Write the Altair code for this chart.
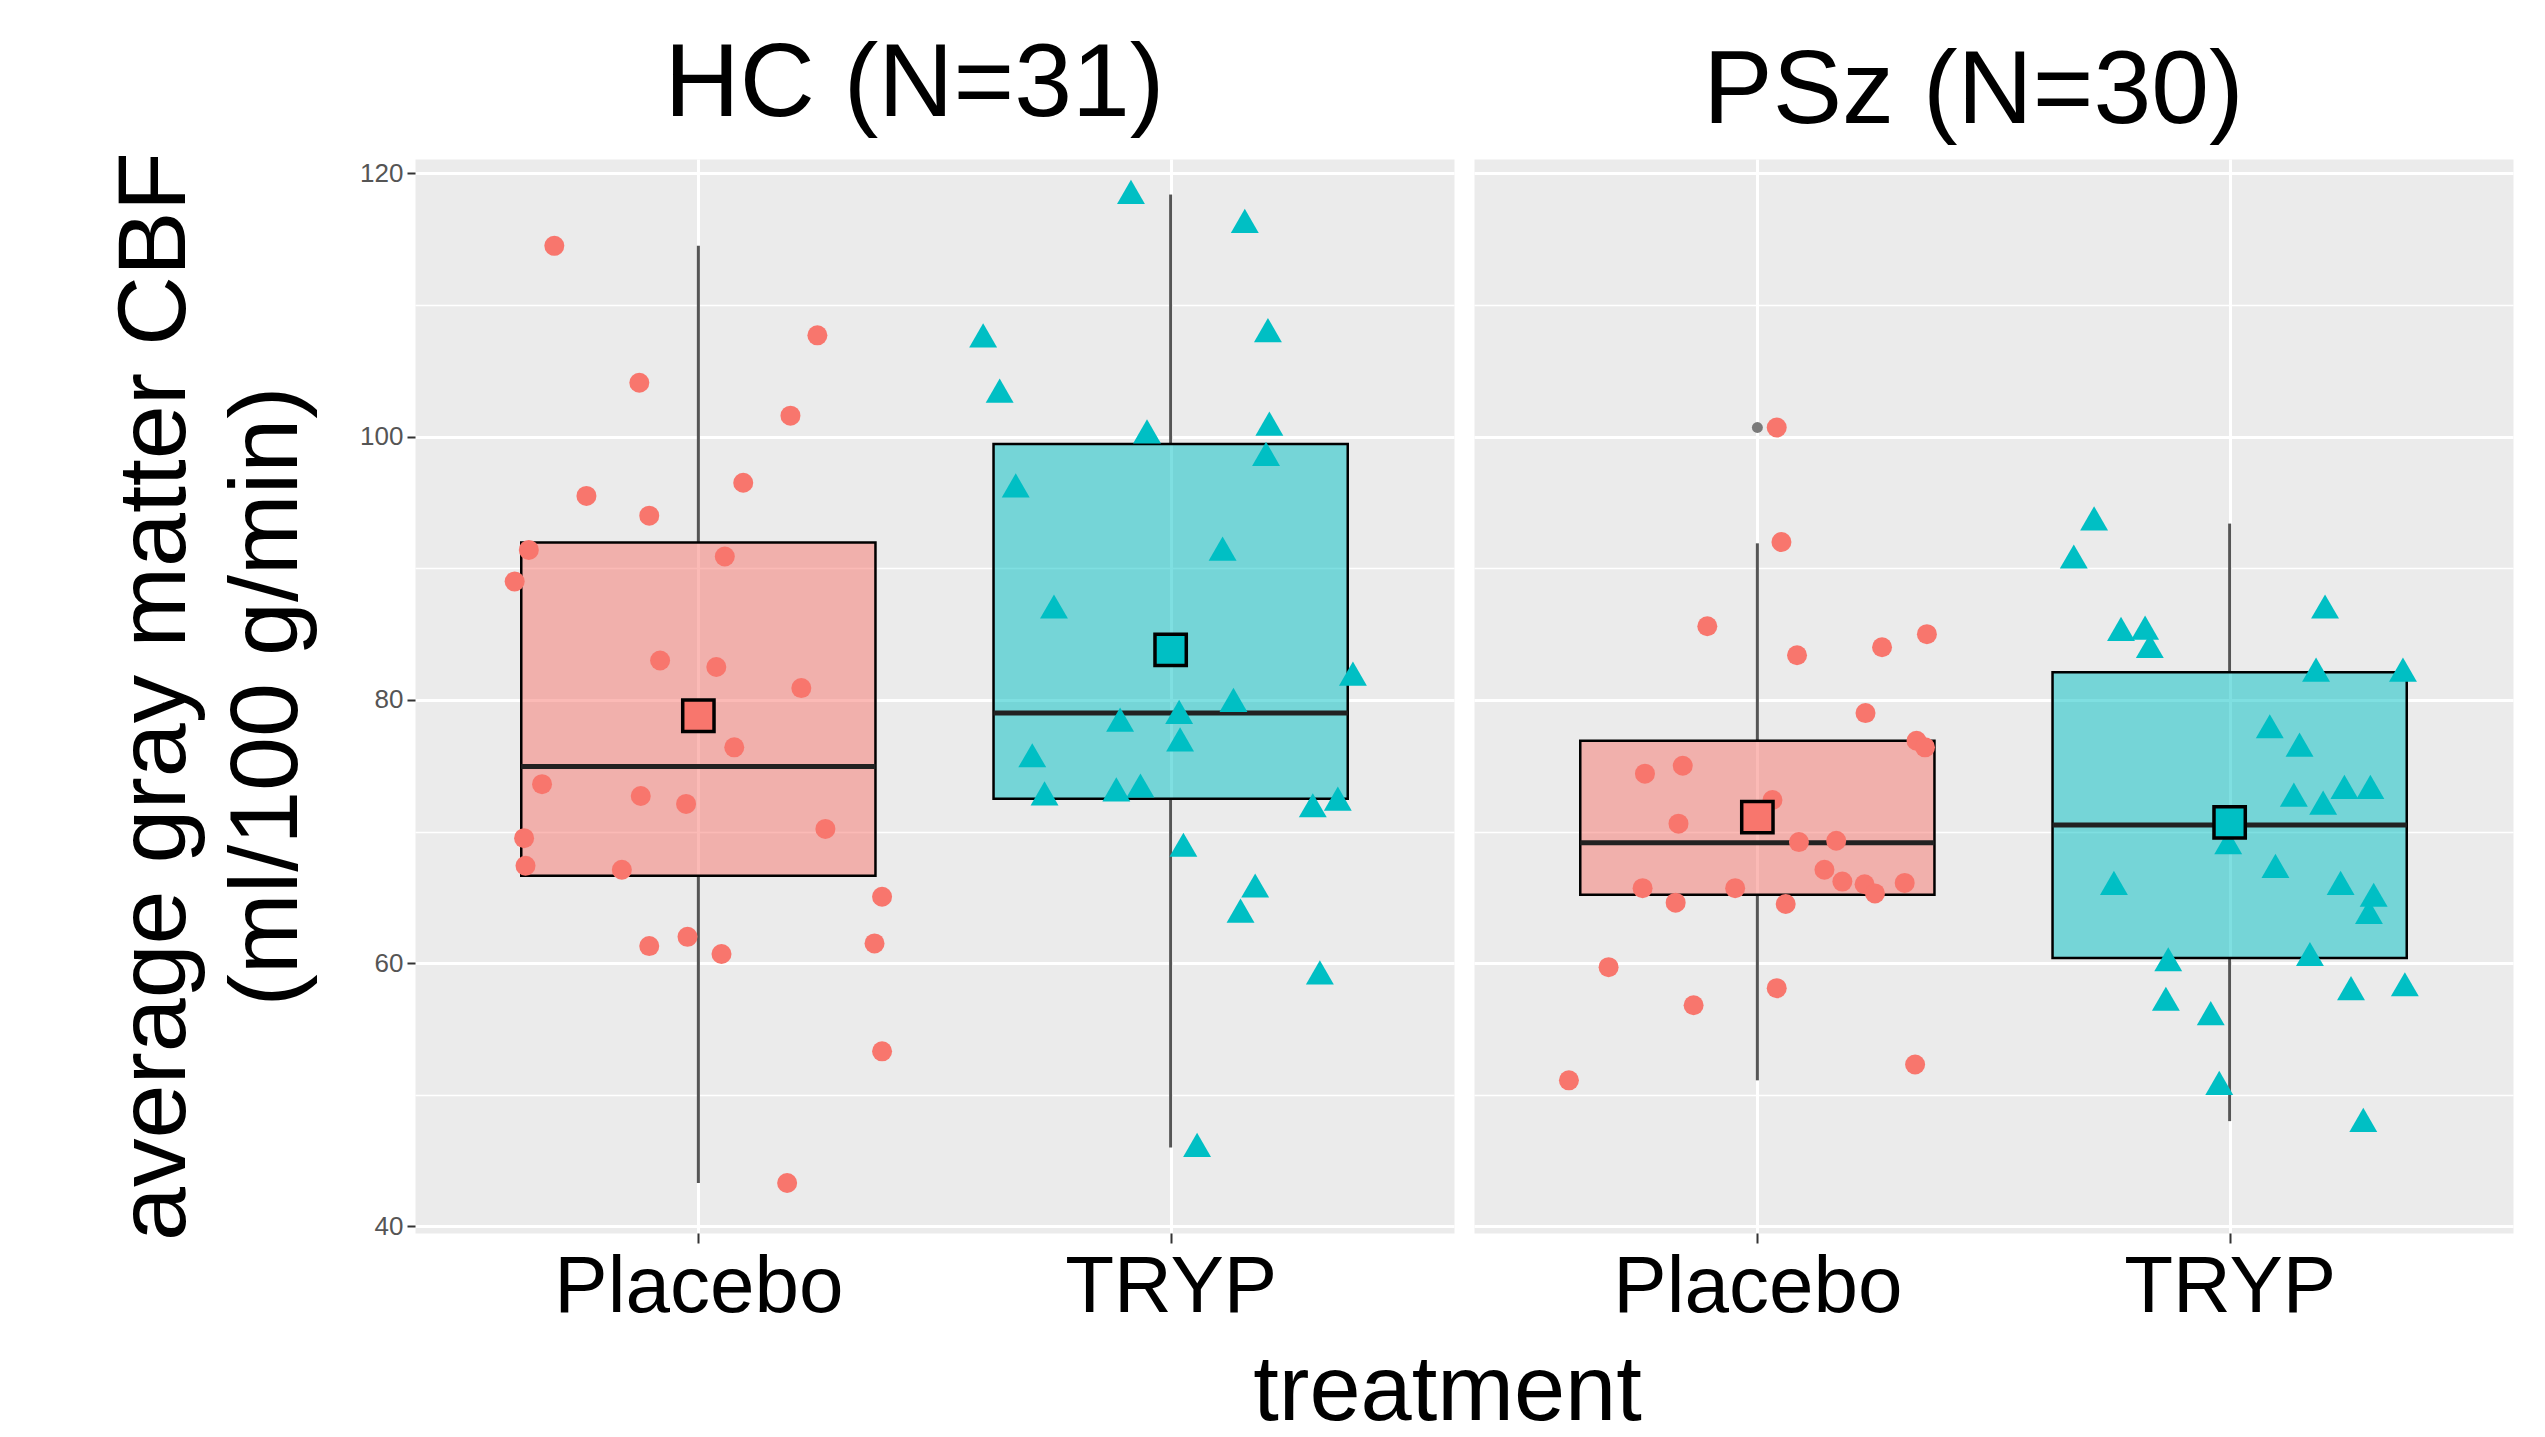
import altair as alt
import pandas as pd

FONT = "Liberation Sans"

treatments = ["Placebo", "TRYP"]
groups = ["HC", "PSz"]
panel_titles = ["HC (N=31)", "PSz (N=30)"]
colors = ["#F8766D", "#00BFC4"]
shapes = ["circle", "triangle-up"]
y_grid = [40, 50, 60, 70, 80, 90, 100, 110, 120]
y_domain = [39.5, 121.1]
y_title = ["average gray matter CBF", "(ml/100 g/min)"]
x_title = "treatment"

# individual subjects (value, horizontal jitter in category units)
hc_placebo_cbf = [114.5, 107.7, 104.1, 101.6, 96.5, 95.5, 94.0, 90.9, 91.4, 89.0,
                  83.0, 82.5, 80.9, 76.4, 73.6, 72.7, 72.1, 70.2, 69.5, 67.4,
                  67.1, 65.05, 61.3, 62.0, 60.7, 61.5, 53.3, 43.3]
hc_placebo_jitter = [-0.305, 0.252, -0.125, 0.195, 0.095, -0.237, -0.104, 0.056, -0.359, -0.389,
                     -0.081, 0.038, 0.218, 0.076, -0.331, -0.122, -0.026, 0.269, -0.369, -0.366,
                     -0.162, 0.389, -0.104, -0.023, 0.049, 0.373, 0.389, 0.188]

hc_tryp_cbf = [118.6, 116.4, 107.7, 108.1, 103.5, 100.4, 101.0, 98.7, 96.3, 91.5,
               87.1, 82.0, 80.0, 79.1, 78.5, 77.0, 75.8, 72.9, 73.2, 73.5,
               72.0, 72.5, 69.0, 65.9, 64.0, 59.3, 46.2]
hc_tryp_jitter = [-0.084, 0.157, -0.397, 0.206, -0.362, -0.050, 0.209, 0.202, -0.328, 0.110,
                  -0.247, 0.386, 0.133, 0.018, -0.107, 0.020, -0.293, -0.267, -0.115, -0.064,
                  0.301, 0.354, 0.027, 0.179, 0.148, 0.316, 0.056]

psz_placebo_cbf = [100.7, 92.0, 85.6, 85.0, 83.4, 84.0, 79.0, 76.9, 76.4, 75.0,
                   74.4, 72.4, 70.6, 69.2, 69.3, 67.1, 66.2, 66.0, 65.3, 66.1,
                   65.7, 65.7, 64.6, 64.5, 59.7, 58.1, 56.8, 52.3, 51.1]
psz_placebo_jitter = [0.041, 0.051, -0.106, 0.359, 0.084, 0.264, 0.229, 0.337, 0.355, -0.158,
                      -0.238, 0.032, -0.167, 0.088, 0.167, 0.142, 0.180, 0.227, 0.249, 0.312,
                      -0.243, -0.047, -0.173, 0.060, -0.315, 0.041, -0.135, 0.334, -0.399]

psz_tryp_cbf = [93.8, 90.9, 87.1, 85.4, 85.5, 84.1, 82.3, 82.3, 78.0, 76.6,
                72.8, 72.2, 73.4, 73.4, 69.2, 67.4, 66.1, 66.1, 65.2, 63.9,
                60.7, 60.3, 58.1, 58.4, 57.3, 56.2, 50.9, 48.1]
psz_tryp_jitter = [-0.287, -0.330, 0.202, -0.230, -0.179, -0.169, 0.183, 0.367, 0.085, 0.148,
                   0.136, 0.198, 0.243, 0.298, -0.003, 0.097, -0.245, 0.235, 0.305, 0.295,
                   0.170, -0.130, 0.257, 0.371, -0.135, -0.040, -0.022, 0.283]

# boxplot statistics
box_group = ["HC", "HC", "PSz", "PSz"]
box_treatment = ["Placebo", "TRYP", "Placebo", "TRYP"]
box_q1 = [66.65, 72.5, 65.2, 60.4]
box_median = [74.95, 79.0, 69.15, 70.5]
box_q3 = [91.96, 99.45, 76.9, 82.1]
box_lo = [43.3, 46.0, 51.1, 48.0]
box_hi = [114.5, 118.4, 91.9, 93.4]
box_mean = [78.8, 83.8, 71.1, 70.7]

outlier_group = ["PSz"]
outlier_treatment = ["Placebo"]
outlier_cbf = [100.7]

# ---- tables ----
rows = []
for g, t, vals, jit in [("HC", "Placebo", hc_placebo_cbf, hc_placebo_jitter),
                        ("HC", "TRYP", hc_tryp_cbf, hc_tryp_jitter),
                        ("PSz", "Placebo", psz_placebo_cbf, psz_placebo_jitter),
                        ("PSz", "TRYP", psz_tryp_cbf, psz_tryp_jitter)]:
    for v, j in zip(vals, jit):
        rows.append({"group": g, "treatment": t, "idx": treatments.index(t), "jitter": j, "cbf": v})
points = pd.DataFrame(rows)

box = pd.DataFrame({"group": box_group, "treatment": box_treatment, "q1": box_q1,
                    "median": box_median, "q3": box_q3, "lo": box_lo, "hi": box_hi,
                    "mean": box_mean})
box["idx"] = [treatments.index(t) for t in box_treatment]

wrows = []
for _, r in box.iterrows():
    wrows.append({"group": r["group"], "treatment": r["treatment"], "idx": r["idx"], "y1": r["lo"], "y2": r["q1"]})
    wrows.append({"group": r["group"], "treatment": r["treatment"], "idx": r["idx"], "y1": r["q3"], "y2": r["hi"]})
whiskers = pd.DataFrame(wrows)

outliers = pd.DataFrame({"group": outlier_group, "treatment": outlier_treatment, "cbf": outlier_cbf})
outliers["idx"] = [treatments.index(t) for t in outlier_treatment]

x_scale = alt.Scale(domain=[-0.6, 1.6], nice=False, zero=False)
y_scale = alt.Scale(domain=y_domain, nice=False, zero=False)
color_scale = alt.Scale(domain=treatments, range=colors)
shape_scale = alt.Scale(domain=treatments, range=shapes)

major_test = "datum.value % 20 === 0"
label_expr_x = "[" + ", ".join("'%s'" % t for t in treatments) + "][datum.value]"


def make_panel(gi):
    g = groups[gi]
    left = gi == 0
    xa = dict(values=[0, 1], labelExpr=label_expr_x, grid=True, gridColor="white", gridWidth=3,
              domain=False, ticks=True, tickSize=10, tickWidth=2, tickColor="#333333",
              labelFont=FONT, labelFontSize=80, labelColor="black", labelPadding=5,
              labelLimit=2000)
    if left:
        xa.update(title=x_title, titleFont=FONT, titleFontSize=92, titleFontWeight="normal",
                  titleColor="black", titleX=1032, titleY=186, titleAlign="center",
                  titleBaseline="alphabetic", titleAngle=0, titleLimit=2000)
    else:
        xa.update(title="")
    ya = dict(values=y_grid, grid=True, gridColor="white",
              gridWidth={"condition": {"test": major_test, "value": 3}, "value": 1.5},
              domain=False)
    if left:
        ya.update(labelExpr="%s ? datum.label : ''" % major_test,
                  tickOpacity={"condition": {"test": major_test, "value": 1}, "value": 0},
                  tickSize=8, tickWidth=2, tickColor="#333333", labelFont=FONT, labelFontSize=26,
                  labelColor="#555555", labelPadding=4, title=y_title, titleFont=FONT,
                  titleFontSize=97, titleFontWeight="normal", titleColor="black",
                  titlePadding=43, titleLineHeight=112, titleLimit=3000)
    else:
        ya.update(labels=False, ticks=False, title="")
    x_axis = alt.Axis(**xa)
    y_axis = alt.Axis(**ya)

    def X(f):
        return alt.X(f, scale=x_scale, axis=x_axis)

    def Y(f):
        return alt.Y(f, scale=y_scale, axis=y_axis)

    bx = box[box.group == g]
    wk = whiskers[whiskers.group == g]
    pt = points[points.group == g]
    ol = outliers[outliers.group == g]

    whisk_layer = alt.Chart(wk).mark_rule(color="#555555", strokeWidth=3).encode(
        x=X("idx:Q"), y=Y("y1:Q"), y2="y2:Q")
    box_layer = alt.Chart(bx).transform_calculate(
        x_lo="datum.idx - 0.375", x_hi="datum.idx + 0.375"
    ).mark_bar(fillOpacity=0.5, stroke="black", strokeWidth=2.5, cornerRadius=0).encode(
        x=X("x_lo:Q"), x2="x_hi:Q", y=Y("q1:Q"), y2="q3:Q",
        fill=alt.Fill("treatment:N", scale=color_scale, legend=None))
    median_layer = alt.Chart(bx).transform_calculate(
        x_lo="datum.idx - 0.375", x_hi="datum.idx + 0.375"
    ).mark_rule(color="#222222", strokeWidth=5).encode(
        x=X("x_lo:Q"), x2="x_hi:Q", y=Y("median:Q"))
    pts_layer = alt.Chart(pt).transform_calculate(
        xpos="datum.idx + datum.jitter"
    ).mark_point(filled=True, opacity=1).encode(
        x=X("xpos:Q"), y=Y("cbf:Q"),
        color=alt.Color("treatment:N", scale=color_scale, legend=None),
        shape=alt.Shape("treatment:N", scale=shape_scale, legend=None),
        size=alt.Size("treatment:N", scale=alt.Scale(domain=treatments, range=[400, 780]), legend=None))
    mean_layer = alt.Chart(bx).mark_point(shape="square", filled=True, size=980, stroke="black",
                                          strokeWidth=3.5, opacity=1).encode(
        x=X("idx:Q"), y=Y("mean:Q"),
        fill=alt.Fill("treatment:N", scale=color_scale, legend=None))
    layers = [whisk_layer, box_layer, median_layer, pts_layer]
    if len(ol):
        layers.append(alt.Chart(ol).mark_circle(color="#7a7a7a", size=120, opacity=1).encode(
            x=X("idx:Q"), y=Y("cbf:Q")))
    layers.append(mean_layer)
    return alt.layer(*layers).properties(
        width=1039, height=1074,
        title=alt.TitleParams(panel_titles[gi], font=FONT, fontSize=104, fontWeight="normal",
                              color="black", anchor="middle", baseline="alphabetic",
                              offset=-68, dx=-20))


chart = alt.hconcat(make_panel(0), make_panel(1), spacing=20, bounds="flush").properties(
    padding={"left": 98, "top": 24, "right": 5, "bottom": 5},
    background="white",
).configure_view(fill="#EBEBEB", stroke="transparent")

chart.save("out.html", embed_options={"renderer": "svg", "actions": False})
